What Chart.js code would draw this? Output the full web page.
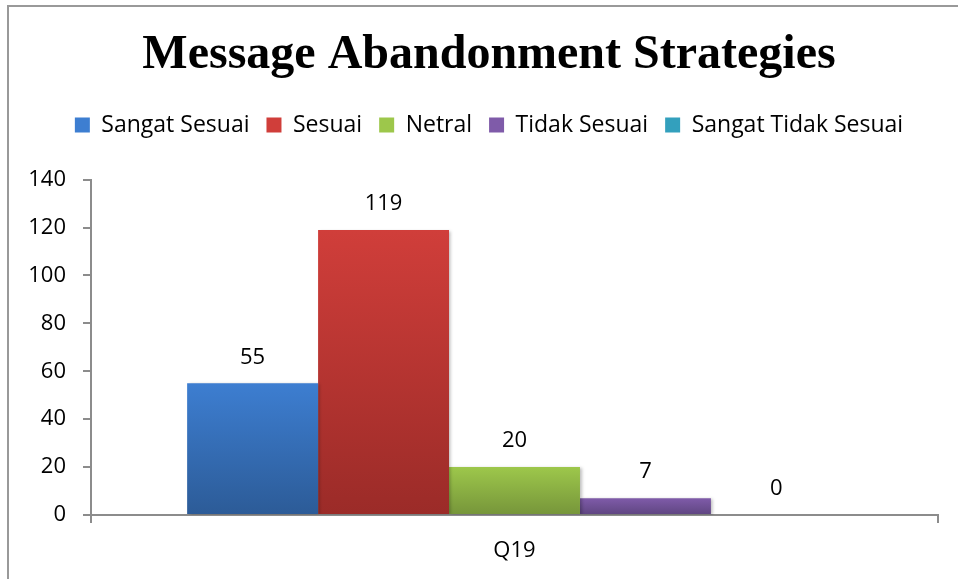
<!DOCTYPE html>
<html>
<head>
<meta charset="utf-8">
<script src="https://cdn.jsdelivr.net/npm/chart.js@4/dist/chart.umd.min.js"></script>
<style>
  html, body { margin: 0; padding: 0; background: #fff; }
  #wrap { width: 958px; height: 579px; position: relative; }
</style>
</head>
<body>
<div id="wrap"><canvas id="myChart"></canvas></div>
<script>
const categories = ['Q19']
const seriesNames = ['Sangat Sesuai', 'Sesuai', 'Netral', 'Tidak Sesuai', 'Sangat Tidak Sesuai']
const sangatSesuai = [55]
const sesuai = [119]
const netral = [20]
const tidakSesuai = [7]
const sangatTidakSesuai = [0]
const yTicks = [0, 20, 40, 60, 80, 100, 120, 140]

// top / bottom gradient colours per series
const topColors = ['#3d7ed1', '#d03e3a', '#9dc74b', '#7f5ba9', '#3bb2d2']
const bottomColors = ['#2c5b97', '#9b2b28', '#76953a', '#5e4580', '#2a8aa4']
const midColors = ['#3570b8', '#bb3733', '#8aae43', '#6f5096', '#33a0bd']

const FONT = "'Open Sans', sans-serif"

function barGradient(i) {
    return (c) => {
        const chart = c.chart
        if (!chart.chartArea || c.type !== 'data') return midColors[i]
        const y = chart.scales.y
        const top = y.getPixelForValue(c.raw)
        const bottom = y.getPixelForValue(0)
        if (bottom - top < 1) return midColors[i]
        const g = chart.ctx.createLinearGradient(0, top, 0, bottom)
        g.addColorStop(0, topColors[i])
        g.addColorStop(1, bottomColors[i])
        return g
    }
}

const seriesData = [sangatSesuai, sesuai, netral, tidakSesuai, sangatTidakSesuai]

// frame + value labels + soft bar shadow
const extras = {
    id: 'extras',
    beforeDraw(chart) {
        const ctx = chart.ctx
        ctx.save()
        ctx.strokeStyle = '#999'
        ctx.lineWidth = 2
        ctx.beginPath()
        ctx.moveTo(8, 579)
        ctx.lineTo(8, 6)
        ctx.lineTo(958, 6)
        ctx.stroke()
        ctx.restore()
    },
    beforeDatasetsDraw(chart) {
        const ctx = chart.ctx
        ctx.save()
        ctx.shadowColor = 'rgba(0,0,0,0.25)'
        ctx.shadowBlur = 3
        ctx.shadowOffsetX = 2
        ctx.shadowOffsetY = 1
    },
    afterDatasetsDraw(chart) {
        const ctx = chart.ctx
        ctx.restore()
        ctx.save()
        ctx.fillStyle = '#000'
        ctx.font = '22px ' + FONT
        ctx.textAlign = 'center'
        ctx.textBaseline = 'middle'
        chart.data.datasets.forEach((ds, i) => {
            chart.getDatasetMeta(i).data.forEach((el, j) => {
                ctx.fillText(String(ds.data[j]), el.x, el.y - 26)
            })
        })
        ctx.restore()
    }
}

const ctx = document.getElementById('myChart').getContext('2d')

const myChart = new Chart(ctx, {
    type: 'bar',
    data: {
        labels: categories,
        datasets: seriesNames.map((name, i) => ({
            label: name,
            data: seriesData[i],
            backgroundColor: barGradient(i),
            borderWidth: 0,
            categoryPercentage: 0.773,
            barPercentage: 1
        }))
    },
    options: {
        responsive: true,
        maintainAspectRatio: false,
        animation: false,
        layout: { padding: { left: 20, right: 0, top: 0, bottom: 0 } },
        plugins: {
            title: {
                display: true,
                text: 'Message Abandonment Strategies',
                color: '#000',
                font: { family: "'Liberation Serif', 'Times New Roman', serif", size: 48, weight: 'bold', lineHeight: 1.2 },
                padding: { top: 27, bottom: 12 }
            },
            legend: {
                display: true,
                position: 'top',
                labels: {
                    color: '#000',
                    font: { family: FONT, size: 23, lineHeight: 1.2 },
                    boxWidth: 15,
                    boxHeight: 15,
                    padding: 17
                }
            },
            // empty spacer between legend and plot
            subtitle: {
                display: true,
                text: '',
                weight: 500,
                font: { size: 1, lineHeight: 1 },
                padding: { top: 0, bottom: 32 }
            },
            tooltip: { enabled: false }
        },
        scales: {
            x: {
                offset: true,
                grid: { display: true, drawOnChartArea: false, drawTicks: true, tickLength: 8, color: '#8c8c8c', lineWidth: 2, offset: true },
                border: { display: true, color: '#8c8c8c', width: 2 },
                ticks: { color: '#000', font: { family: FONT, size: 22 }, padding: 15 },
                afterFit: (s) => { s.height = 64 }
            },
            y: {
                min: 0,
                max: 140,
                afterBuildTicks: (s) => { s.ticks = yTicks.map(v => ({ value: v })) },
                grid: { display: true, drawOnChartArea: false, drawTicks: true, tickLength: 8, color: '#8c8c8c', lineWidth: 2 },
                border: { display: true, color: '#8c8c8c', width: 2 },
                ticks: { color: '#000', font: { family: FONT, size: 22 }, padding: 17 },
                afterFit: (s) => { s.width = 71 }
            },
            yRight: {
                position: 'right',
                display: true,
                grid: { display: false },
                border: { display: false },
                ticks: { display: false },
                afterFit: (s) => { s.width = 20 }
            }
        }
    },
    plugins: [extras]
})
</script>
</body>
</html>
